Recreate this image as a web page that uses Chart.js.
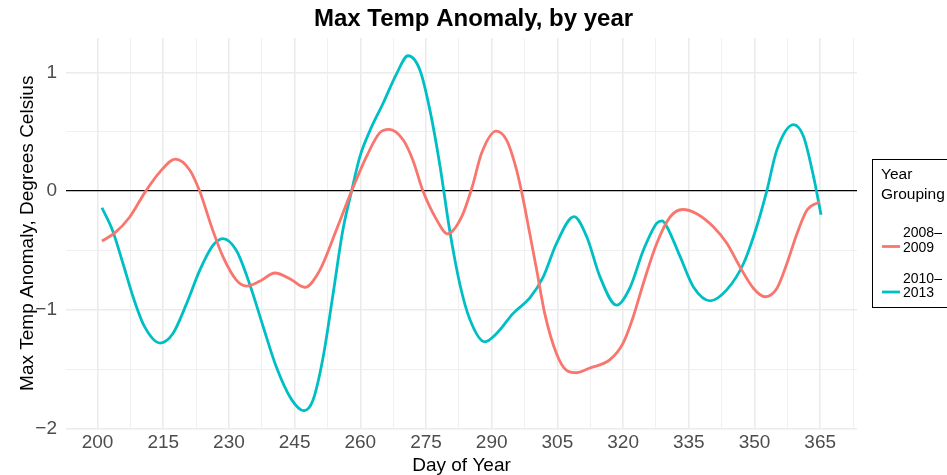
<!DOCTYPE html>
<html>
<head>
<meta charset="utf-8">
<script src="https://cdn.jsdelivr.net/npm/chart.js@4.4.1/dist/chart.umd.min.js"></script>
<style>
    html, body { margin: 0; padding: 0; background: #fff; }
    #wrap { width: 947px; height: 475px; position: relative; }
</style>
</head>
<body>
<div id="wrap"><canvas id="temp-chart"></canvas></div>
<script>
// smoothed anomaly
const days2008 = [201, 204, 207.3, 211, 214.2, 217.8, 221, 223.3, 226.3, 228.6, 231.7, 234, 237, 240.5, 244, 247.3, 250.7, 254.5, 258, 261.4, 264.4, 266.6, 269.8, 272, 274.3, 277.4, 279.9, 283.1, 285.5, 287.7, 291, 293.4, 295.3, 296.8, 298.7, 300.3, 302.1, 304.8, 307.1, 309.4, 312.4, 317, 320, 322.3, 324.6, 327.7, 330.7, 333.6, 336.8, 340.6, 343.7, 346.7, 349.8, 352.4, 355.1, 357.4, 359.7, 362, 364.9]
const anomaly2008 = [-0.42, -0.35, -0.22, 0.0, 0.16, 0.27, 0.18, 0.0, -0.33, -0.55, -0.75, -0.80, -0.76, -0.69, -0.74, -0.81, -0.67, -0.33, 0.0, 0.29, 0.49, 0.52, 0.43, 0.26, 0.0, -0.24, -0.36, -0.22, 0.03, 0.32, 0.505, 0.43, 0.23, 0.0, -0.36, -0.67, -1.03, -1.37, -1.51, -1.53, -1.49, -1.42, -1.28, -1.06, -0.78, -0.44, -0.22, -0.155, -0.19, -0.30, -0.44, -0.64, -0.82, -0.89, -0.82, -0.61, -0.36, -0.16, -0.09]

const days2010 = [201, 203.5, 205.8, 208.1, 210.7, 214.3, 217.2, 220.3, 223.3, 226.3, 228.6, 231.7, 234.7, 237.8, 240.8, 244.2, 247.1, 249.2, 251.5, 253.8, 256, 258, 259.9, 262.2, 265.2, 268.3, 270.9, 273.6, 275.9, 278.2, 280.4, 282.7, 285, 288.4, 291.1, 294.9, 298.7, 301.8, 304.8, 308.8, 311.7, 314.7, 318.5, 321.6, 324.6, 327.7, 328.9, 330, 333, 336.1, 339.9, 343.7, 347.5, 350.5, 352.8, 355.1, 358.9, 361.2, 363.5, 365.2]
const anomaly2010 = [-0.14, -0.34, -0.61, -0.89, -1.14, -1.28, -1.20, -0.95, -0.67, -0.46, -0.40, -0.50, -0.78, -1.14, -1.48, -1.75, -1.85, -1.76, -1.40, -0.86, -0.33, 0.0, 0.29, 0.51, 0.74, 0.99, 1.14, 1.02, 0.68, 0.21, -0.33, -0.78, -1.08, -1.27, -1.20, -1.03, -0.90, -0.72, -0.44, -0.215, -0.385, -0.72, -0.96, -0.81, -0.50, -0.27, -0.25, -0.30, -0.55, -0.81, -0.924, -0.83, -0.61, -0.30, 0.0, 0.345, 0.56, 0.46, 0.12, -0.20]

const dayTicks = [200, 215, 230, 245, 260, 275, 290, 305, 320, 335, 350, 365]
const anomalyTicks = [-2, -1, 0, 1]

const seriesNames = ["2008–2009", "2010–2013"]
const seriesColors = ["#F8766D", "#00BFC4"]
const legendTitle = ["Year", "Grouping"]

const FONT = "'Liberation Sans', Arial, sans-serif"

// ggplot style 5% expansion on each side
function expandRange(values) {
    const lo = Math.min(...values)
    const hi = Math.max(...values)
    const pad = (hi - lo) * 0.05
    return { min: lo - pad, max: hi + pad }
}

function toPoints(xs, ys) {
    return xs.map((x, i) => ({ x: x, y: ys[i] }))
}

function minus(v) {
    return v < 0 ? "\u2212" + Math.abs(v) : String(v)
}

// major ticks plus the minor lines half way between them
function withMinor(majors, half, scale) {
    const eps = (scale.max - scale.min) * 0.002
    return majors.flatMap(t => [t, t + half])
        .filter(v => v >= scale.min - eps && v <= scale.max + eps)
        .map(v => ({ value: v }))
}

const xRange = expandRange(days2008.concat(days2010))
const yRange = expandRange(anomaly2008.concat(anomaly2010))

function sideLegendPlugin() {
    return {
        id: "sideLegend",
        afterDraw: (chart) => {
            const { ctx, chartArea } = chart
            const left = chartArea.right + 15
            const top = 159

            ctx.save()
            ctx.strokeStyle = "#000"
            ctx.lineWidth = 1
            ctx.strokeRect(left + 0.5, top + 0.5, 120, 148)

            ctx.fillStyle = "#000"
            ctx.textBaseline = "alphabetic"
            ctx.textAlign = "left"
            ctx.font = "15.5px " + FONT
            legendTitle.forEach((t, i) => ctx.fillText(t, left + 9, top + 20 + i * 20))

            ctx.font = "14px " + FONT
            seriesNames.forEach((name, i) => {
                const y0 = top + 78 + i * 45.5
                const cut = name.indexOf("–") + 1
                ctx.fillStyle = "#000"
                ctx.fillText(name.slice(0, cut), left + 31, y0)
                ctx.fillText(name.slice(cut), left + 31, y0 + 14.5)

                ctx.strokeStyle = seriesColors[i]
                ctx.lineWidth = 2.8
                ctx.beginPath()
                ctx.moveTo(left + 10, y0 + 9.5)
                ctx.lineTo(left + 28, y0 + 9.5)
                ctx.stroke()
            })
            ctx.restore()
        }
    }
}

const datasets = [
    {
        label: seriesNames[0],
        data: toPoints(days2008, anomaly2008),
        borderColor: seriesColors[0]
    },
    {
        label: seriesNames[1],
        data: toPoints(days2010, anomaly2010),
        borderColor: seriesColors[1]
    }
].map(ds => Object.assign(ds, {
    yAxisID: "y",
    borderWidth: 2.8,
    pointRadius: 0,
    fill: false,
    cubicInterpolationMode: "monotone"
}))

new Chart(document.getElementById("temp-chart").getContext("2d"), {
    type: "line",
    data: { datasets },
    options: {
        responsive: true,
        maintainAspectRatio: false,
        animation: false,
        layout: { padding: 0 },
        plugins: {
            legend: { display: false },
            tooltip: { enabled: false },
            title: {
                display: true,
                text: "Max Temp Anomaly, by year",
                color: "#000",
                font: { family: FONT, size: 24, weight: "bold", lineHeight: 1 },
                padding: { top: 7.2, bottom: 6.8 }
            }
        },
        scales: {
            x: {
                type: "linear",
                min: xRange.min,
                max: xRange.max,
                afterBuildTicks: (s) => { s.ticks = withMinor(dayTicks, 7.5, s) },
                afterFit: (s) => { s.height = 46.5 },
                ticks: {
                    autoSkip: false,
                    maxRotation: 0,
                    padding: 3,
                    color: "#4d4d4d",
                    font: { family: FONT, size: 19 },
                    callback: (v) => dayTicks.includes(v) ? String(v) : ""
                },
                grid: {
                    drawTicks: false,
                    color: (c) => dayTicks.includes(c.tick.value) ? "#ebebeb" : "#eeeeee",
                    lineWidth: (c) => dayTicks.includes(c.tick.value) ? 1.6 : 0.9
                },
                border: { display: false },
                title: {
                    display: true,
                    text: "Day of Year",
                    color: "#000",
                    font: { family: FONT, size: 19, lineHeight: 1 },
                    padding: { top: 0, bottom: 0 }
                }
            },
            y: {
                type: "linear",
                min: yRange.min,
                max: yRange.max,
                afterBuildTicks: (s) => { s.ticks = withMinor(anomalyTicks, 0.5, s) },
                afterFit: (s) => { s.width = 66 },
                ticks: {
                    autoSkip: false,
                    padding: 9,
                    color: "#4d4d4d",
                    font: { family: FONT, size: 19 },
                    callback: (v) => anomalyTicks.includes(v) ? minus(v) : ""
                },
                grid: {
                    drawTicks: false,
                    color: (c) => c.tick.value === 0 ? "#000000" : (anomalyTicks.includes(c.tick.value) ? "#ebebeb" : "#eeeeee"),
                    lineWidth: (c) => c.tick.value === 0 ? 1.3 : (anomalyTicks.includes(c.tick.value) ? 1.6 : 0.9)
                },
                border: { display: false },
                title: {
                    display: true,
                    text: "Max Temp Anomaly, Degrees Celsius",
                    color: "#000",
                    font: { family: FONT, size: 19, lineHeight: 1 },
                    padding: { top: 18, bottom: 0 }
                }
            },
            legendSpace: {
                position: "right",
                display: true,
                grid: { display: false },
                ticks: { display: false },
                border: { display: false },
                afterFit: (s) => { s.width = 90 }
            }
        }
    },
    plugins: [sideLegendPlugin()]
})
</script>
</body>
</html>
